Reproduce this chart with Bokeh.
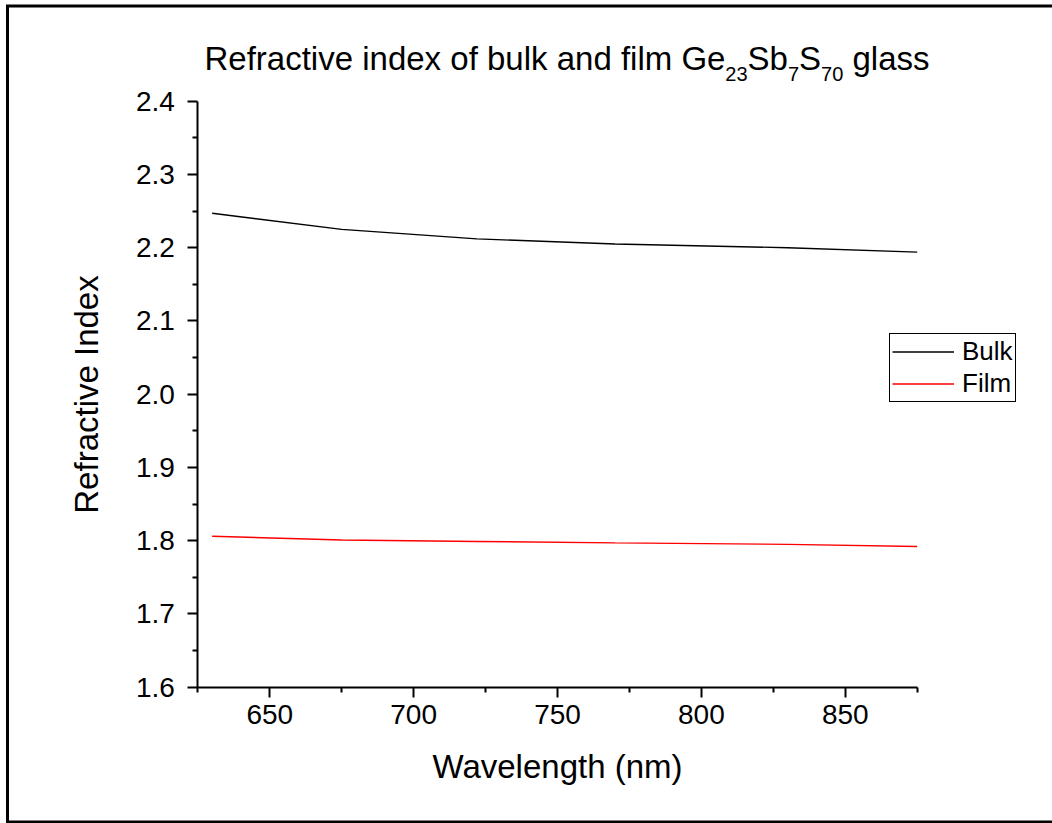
from bokeh.plotting import figure
from bokeh.models import (FixedTicker, Label, Legend, LegendItem, Range1d,
                          PrintfTickFormatter)
from bokeh.embed import file_html
from bokeh.resources import INLINE

# ---- data ----
wavelength = [630, 675, 722, 770, 830, 875]
bulk_n = [2.247, 2.225, 2.212, 2.205, 2.200, 2.194]
film_n = [1.806, 1.801, 1.799, 1.797, 1.795, 1.792]
series_names = ["Bulk", "Film"]
x_ticks = [650, 700, 750, 800, 850]
x_minor = [625, 675, 725, 775, 825, 875]
y_ticks = [1.6, 1.7, 1.8, 1.9, 2.0, 2.1, 2.2, 2.3, 2.4]
y_minor = [1.65, 1.75, 1.85, 1.95, 2.05, 2.15, 2.25, 2.35]
x_label = "Wavelength (nm)"
y_label = "Refractive Index"
title_parts = [("Refractive index of bulk and film Ge", False), ("23", True),
               ("Sb", False), ("7", True), ("S", False), ("70", True), (" glass", False)]

FONT = "Liberation Sans"
W, H = 1052, 823
XMIN, XMAX, YMIN, YMAX = 625, 875, 1.6, 2.4
# pixel positions of the axis box in the page
PX0, PX1, PY0, PY1 = 197.3, 916.7, 686.7, 100.7

def px2x(px):
    return XMIN + (px - PX0) * (XMAX - XMIN) / (PX1 - PX0)

def py2y(py):
    return YMIN + (PY0 - py) * (YMAX - YMIN) / (PY0 - PY1)

p = figure(width=W, height=H, output_backend="svg", toolbar_location=None, title=None,
           x_range=Range1d(px2x(0), px2x(W)), y_range=Range1d(py2y(H), py2y(0)),
           min_border=0, min_border_left=0, min_border_right=0,
           min_border_top=0, min_border_bottom=0)
p.outline_line_color = None
p.xgrid.visible = False
p.ygrid.visible = False
p.background_fill_color = "white"
p.border_fill_color = "white"

# outer frame of the picture (right side runs off the page)
p.line([px2x(W + 20), px2x(7.0), px2x(7.0), px2x(W + 20)],
       [py2y(5.5), py2y(5.5), py2y(821.5), py2y(821.5)],
       line_color="black", line_width=3, line_join="miter")

r1 = p.line(wavelength, bulk_n, line_color="black", line_width=1.4)
r2 = p.line(wavelength, film_n, line_color="#ff0000", line_width=1.4)

for ax, ticks, minor in ((p.xaxis[0], x_ticks, x_minor), (p.yaxis[0], y_ticks, y_minor)):
    ax.ticker = FixedTicker(ticks=ticks, minor_ticks=minor)
    ax.axis_line_width = 2
    ax.major_tick_line_width = 2
    ax.minor_tick_line_width = 2
    ax.major_tick_in = 0
    ax.minor_tick_in = 0
    ax.major_tick_out = 10
    ax.minor_tick_out = 5
    ax.major_label_text_font = FONT
    ax.major_label_text_font_size = "28px"
    ax.major_label_text_color = "black"
    ax.axis_label_text_font = FONT
    ax.axis_label_text_font_size = "33px"
    ax.axis_label_text_font_style = "normal"
    ax.axis_label_text_color = "black"

p.xaxis.fixed_location = YMIN
p.yaxis.fixed_location = XMIN
p.xaxis.bounds = (XMIN, XMAX)
p.yaxis.bounds = (YMIN, YMAX)
p.yaxis.formatter = PrintfTickFormatter(format="%.1f")
p.xaxis.axis_label = x_label
p.yaxis.axis_label = y_label
p.xaxis.major_label_standoff = 8
p.yaxis.major_label_standoff = 13
p.xaxis.axis_label_standoff = 20
p.yaxis.axis_label_standoff = 28

legend = Legend(items=[LegendItem(label=series_names[0], renderers=[r1]),
                       LegendItem(label=series_names[1], renderers=[r2])],
                location=(889, H - 402))
legend.label_text_font = FONT
legend.label_text_font_size = "26px"
legend.label_text_color = "black"
legend.glyph_width = 62
legend.glyph_height = 31
legend.label_height = 31
legend.label_standoff = 8
legend.padding = 2
legend.spacing = 1
legend.margin = 0
legend.border_line_color = "black"
legend.border_line_width = 1
legend.border_line_alpha = 1
legend.background_fill_color = "white"
legend.background_fill_alpha = 1
p.add_layout(legend)

# title with subscripts
widths = {"R": .722, "e": .556, "f": .278, "r": .333, "a": .556, "c": .5, "t": .278,
          "i": .222, "v": .5, " ": .278, "n": .556, "d": .556, "x": .5, "o": .556,
          "b": .556, "u": .556, "l": .222, "k": .5, "m": .833, "G": .778, "S": .667,
          "g": .556, "s": .5, "2": .556, "3": .556, "7": .556, "0": .556}
big, small = 33, 20
x = 204.0
for txt, sub in title_parts:
    size = small if sub else big
    base = 73 if sub else 58
    lead = len(txt) - len(txt.lstrip(" "))
    x += lead * widths[" "] * size
    txt = txt.lstrip(" ")
    p.add_layout(Label(x=px2x(x), y=py2y(base), text=txt, text_font=FONT,
                       text_font_size=f"{size}px", text_align="left",
                       text_baseline="alphabetic", text_color="black"))
    x += sum(widths.get(ch, .556) for ch in txt) * size

open("out.html", "w").write(file_html(p, INLINE))
